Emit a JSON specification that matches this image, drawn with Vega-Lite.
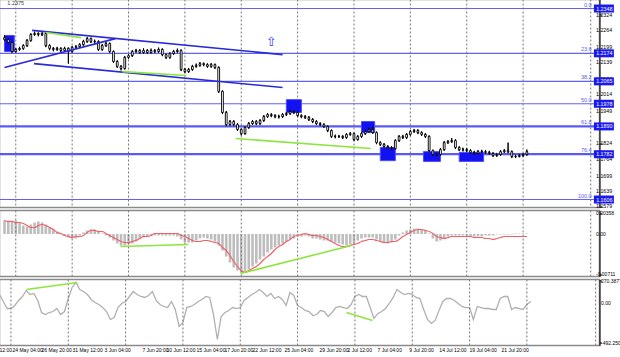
{
"$schema":"https://vega.github.io/schema/vega-lite/v6.json",
"padding":{"left":-1.5,"top":-1.5,"right":0,"bottom":0},
"background":"white",
"spacing":3,
"bounds":"flush",
"config":{"view":{"stroke":"#8a8a8a","strokeWidth":1.5},"font":"Liberation Sans","axis":{"labels":false,"tickColor":"#000","domainColor":"#000","grid":false,"title":null}},
"datasets":{
"bars":[
{"i":0,"o":1.2235,"h":1.2245,"l":1.2222,"c":1.2228,"m":0.00235,"s":0.00235,"k":98},
{"i":2,"o":1.2228,"h":1.2232,"l":1.2210,"c":1.2216,"m":0.00235,"s":0.00217,"k":12},
{"i":4,"o":1.2216,"h":1.2220,"l":1.2175,"c":1.2181,"m":0.00235,"s":0.00217,"k":-74},
{"i":6,"o":1.2181,"h":1.2195,"l":1.2176,"c":1.2189,"m":0.00235,"s":0.00200,"k":-74},
{"i":8,"o":1.2189,"h":1.2199,"l":1.2184,"c":1.2193,"m":0.00200,"s":0.00200,"k":-37},
{"i":10,"o":1.2193,"h":1.2209,"l":1.2188,"c":1.2204,"m":0.00147,"s":0.00182,"k":25},
{"i":12,"o":1.2204,"h":1.2229,"l":1.2199,"c":1.2224,"m":0.00130,"s":0.00147,"k":74},
{"i":14,"o":1.2224,"h":1.2252,"l":1.2219,"c":1.2247,"m":0.00165,"s":0.00112,"k":148},
{"i":16,"o":1.2247,"h":1.2258,"l":1.2242,"c":1.2251,"m":0.00200,"s":0.00112,"k":98},
{"i":18,"o":1.2251,"h":1.2255,"l":1.2240,"c":1.2247,"m":0.00217,"s":0.00147,"k":111},
{"i":20,"o":1.2247,"h":1.2256,"l":1.2241,"c":1.2251,"m":0.00200,"s":0.00165,"k":25},
{"i":22,"o":1.2251,"h":1.2254,"l":1.2198,"c":1.2204,"m":0.00165,"s":0.00147,"k":-123},
{"i":24,"o":1.2204,"h":1.2209,"l":1.2186,"c":1.2193,"m":0.00112,"s":0.00112,"k":-148},
{"i":26,"o":1.2193,"h":1.2198,"l":1.2182,"c":1.2189,"m":0.00077,"s":0.00077,"k":-123},
{"i":28,"o":1.2189,"h":1.2199,"l":1.2184,"c":1.2193,"m":0.00042,"s":0.00025,"k":-111},
{"i":30,"o":1.2193,"h":1.2197,"l":1.2179,"c":1.2185,"m":0.00007,"s":0.00007,"k":-74},
{"i":32,"o":1.2185,"h":1.2199,"l":1.2180,"c":1.2193,"m":-0.00028,"s":-0.00028,"k":-148},
{"i":34,"o":1.2193,"h":1.2197,"l":1.2134,"c":1.2181,"m":-0.00063,"s":-0.00046,"k":-111},
{"i":36,"o":1.2181,"h":1.2202,"l":1.2176,"c":1.2197,"m":-0.00081,"s":-0.00063,"k":49},
{"i":38,"o":1.2197,"h":1.2206,"l":1.2191,"c":1.2200,"m":-0.00081,"s":-0.00046,"k":185},
{"i":40,"o":1.2200,"h":1.2213,"l":1.2195,"c":1.2208,"m":-0.00028,"s":-0.00046,"k":246},
{"i":42,"o":1.2208,"h":1.2226,"l":1.2203,"c":1.2220,"m":0.00025,"s":-0.00028,"k":160},
{"i":44,"o":1.2220,"h":1.2237,"l":1.2215,"c":1.2231,"m":0.00060,"s":0.00025,"k":135},
{"i":46,"o":1.2231,"h":1.2235,"l":1.2214,"c":1.2220,"m":0.00077,"s":0.00060,"k":98},
{"i":48,"o":1.2220,"h":1.2227,"l":1.2212,"c":1.2220,"m":0.00077,"s":0.00060,"k":37},
{"i":50,"o":1.2220,"h":1.2224,"l":1.2183,"c":1.2189,"m":0.00042,"s":0.00042,"k":0},
{"i":52,"o":1.2189,"h":1.2210,"l":1.2184,"c":1.2204,"m":0.00007,"s":0.00042,"k":-25},
{"i":54,"o":1.2204,"h":1.2218,"l":1.2199,"c":1.2212,"m":-0.00028,"s":0.00007,"k":-62},
{"i":56,"o":1.2212,"h":1.2216,"l":1.2176,"c":1.2181,"m":-0.00063,"s":-0.00028,"k":-111},
{"i":58,"o":1.2181,"h":1.2185,"l":1.2137,"c":1.2142,"m":-0.00116,"s":-0.00063,"k":-209},
{"i":60,"o":1.2142,"h":1.2147,"l":1.2117,"c":1.2123,"m":-0.00168,"s":-0.00098,"k":-185},
{"i":62,"o":1.2123,"h":1.2128,"l":1.2108,"c":1.2115,"m":-0.00203,"s":-0.00133,"k":-62},
{"i":64,"o":1.2115,"h":1.2163,"l":1.2111,"c":1.2158,"m":-0.00203,"s":-0.00151,"k":-12},
{"i":66,"o":1.2158,"h":1.2170,"l":1.2152,"c":1.2165,"m":-0.00186,"s":-0.00151,"k":12},
{"i":68,"o":1.2165,"h":1.2186,"l":1.2160,"c":1.2181,"m":-0.00168,"s":-0.00133,"k":74},
{"i":70,"o":1.2181,"h":1.2191,"l":1.2176,"c":1.2185,"m":-0.00133,"s":-0.00116,"k":135},
{"i":72,"o":1.2185,"h":1.2190,"l":1.2172,"c":1.2177,"m":-0.00081,"s":-0.00081,"k":98},
{"i":74,"o":1.2177,"h":1.2193,"l":1.2172,"c":1.2185,"m":-0.00063,"s":-0.00046,"k":74},
{"i":76,"o":1.2185,"h":1.2190,"l":1.2171,"c":1.2177,"m":-0.00046,"s":-0.00046,"k":62},
{"i":78,"o":1.2177,"h":1.2192,"l":1.2172,"c":1.2185,"m":-0.00028,"s":-0.00028,"k":86},
{"i":80,"o":1.2185,"h":1.2190,"l":1.2175,"c":1.2181,"m":-0.00028,"s":0.00007,"k":135},
{"i":82,"o":1.2181,"h":1.2196,"l":1.2176,"c":1.2189,"m":-0.00028,"s":0.00007,"k":25},
{"i":84,"o":1.2189,"h":1.2193,"l":1.2163,"c":1.2169,"m":-0.00028,"s":0.00007,"k":-25},
{"i":86,"o":1.2169,"h":1.2173,"l":1.2152,"c":1.2158,"m":-0.00028,"s":0.00007,"k":-49},
{"i":88,"o":1.2158,"h":1.2178,"l":1.2153,"c":1.2173,"m":-0.00028,"s":0.00007,"k":-62},
{"i":90,"o":1.2173,"h":1.2187,"l":1.2168,"c":1.2181,"m":-0.00028,"s":0.00007,"k":12},
{"i":92,"o":1.2181,"h":1.2192,"l":1.2176,"c":1.2185,"m":-0.00046,"s":0.00007,"k":-86},
{"i":94,"o":1.2185,"h":1.2189,"l":1.2105,"c":1.2111,"m":-0.00098,"s":-0.00028,"k":-295},
{"i":96,"o":1.2111,"h":1.2117,"l":1.2097,"c":1.2103,"m":-0.00151,"s":-0.00046,"k":-246},
{"i":98,"o":1.2103,"h":1.2117,"l":1.2098,"c":1.2111,"m":-0.00151,"s":-0.00081,"k":-62},
{"i":100,"o":1.2111,"h":1.2129,"l":1.2106,"c":1.2123,"m":-0.00151,"s":-0.00116,"k":-49},
{"i":102,"o":1.2123,"h":1.2134,"l":1.2118,"c":1.2127,"m":-0.00116,"s":-0.00133,"k":-25},
{"i":104,"o":1.2127,"h":1.2140,"l":1.2122,"c":1.2134,"m":-0.00081,"s":-0.00133,"k":12},
{"i":106,"o":1.2134,"h":1.2138,"l":1.2124,"c":1.2130,"m":-0.00063,"s":-0.00116,"k":37},
{"i":108,"o":1.2130,"h":1.2135,"l":1.2118,"c":1.2123,"m":-0.00081,"s":-0.00116,"k":74},
{"i":110,"o":1.2123,"h":1.2136,"l":1.2118,"c":1.2130,"m":-0.00098,"s":-0.00133,"k":62},
{"i":112,"o":1.2130,"h":1.2134,"l":1.2113,"c":1.2119,"m":-0.00133,"s":-0.00151,"k":-148},
{"i":114,"o":1.2119,"h":1.2123,"l":1.2020,"c":1.2026,"m":-0.00203,"s":-0.00168,"k":-455},
{"i":116,"o":1.2026,"h":1.2030,"l":1.1938,"c":1.1944,"m":-0.00291,"s":-0.00238,"k":-172},
{"i":118,"o":1.1944,"h":1.1950,"l":1.1890,"c":1.1897,"m":-0.00396,"s":-0.00291,"k":-123},
{"i":120,"o":1.1897,"h":1.1915,"l":1.1892,"c":1.1909,"m":-0.00501,"s":-0.00379,"k":-98},
{"i":122,"o":1.1909,"h":1.1914,"l":1.1891,"c":1.1897,"m":-0.00589,"s":-0.00484,"k":-62},
{"i":124,"o":1.1897,"h":1.1902,"l":1.1872,"c":1.1878,"m":-0.00641,"s":-0.00571,"k":-74},
{"i":126,"o":1.1878,"h":1.1882,"l":1.1855,"c":1.1862,"m":-0.00676,"s":-0.00641,"k":-62},
{"i":128,"o":1.1862,"h":1.1891,"l":1.1858,"c":1.1886,"m":-0.00676,"s":-0.00676,"k":25},
{"i":130,"o":1.1886,"h":1.1907,"l":1.1881,"c":1.1901,"m":-0.00624,"s":-0.00641,"k":62},
{"i":132,"o":1.1901,"h":1.1915,"l":1.1896,"c":1.1909,"m":-0.00571,"s":-0.00606,"k":98},
{"i":134,"o":1.1909,"h":1.1914,"l":1.1895,"c":1.1901,"m":-0.00519,"s":-0.00571,"k":123},
{"i":136,"o":1.1901,"h":1.1918,"l":1.1896,"c":1.1913,"m":-0.00449,"s":-0.00519,"k":160},
{"i":138,"o":1.1913,"h":1.1934,"l":1.1908,"c":1.1928,"m":-0.00396,"s":-0.00449,"k":123},
{"i":140,"o":1.1928,"h":1.1942,"l":1.1923,"c":1.1936,"m":-0.00326,"s":-0.00396,"k":74},
{"i":142,"o":1.1936,"h":1.1941,"l":1.1926,"c":1.1932,"m":-0.00273,"s":-0.00344,"k":111},
{"i":144,"o":1.1932,"h":1.1937,"l":1.1922,"c":1.1928,"m":-0.00238,"s":-0.00273,"k":49},
{"i":146,"o":1.1928,"h":1.1935,"l":1.1921,"c":1.1928,"m":-0.00203,"s":-0.00221,"k":74},
{"i":148,"o":1.1928,"h":1.1942,"l":1.1923,"c":1.1936,"m":-0.00168,"s":-0.00186,"k":37},
{"i":150,"o":1.1936,"h":1.1946,"l":1.1931,"c":1.1940,"m":-0.00133,"s":-0.00133,"k":-37},
{"i":152,"o":1.1940,"h":1.1955,"l":1.1935,"c":1.1948,"m":-0.00098,"s":-0.00098,"k":123},
{"i":154,"o":1.1948,"h":1.1953,"l":1.1938,"c":1.1944,"m":-0.00081,"s":-0.00046,"k":86},
{"i":156,"o":1.1944,"h":1.1948,"l":1.1926,"c":1.1932,"m":-0.00046,"s":-0.00028,"k":-37},
{"i":158,"o":1.1932,"h":1.1937,"l":1.1922,"c":1.1928,"m":-0.00046,"s":-0.00011,"k":-62},
{"i":160,"o":1.1928,"h":1.1934,"l":1.1919,"c":1.1925,"m":-0.00028,"s":0.00007,"k":-98},
{"i":162,"o":1.1925,"h":1.1930,"l":1.1911,"c":1.1917,"m":-0.00046,"s":-0.00011,"k":-111},
{"i":164,"o":1.1917,"h":1.1922,"l":1.1903,"c":1.1909,"m":-0.00081,"s":-0.00028,"k":-160},
{"i":166,"o":1.1909,"h":1.1914,"l":1.1895,"c":1.1901,"m":-0.00081,"s":-0.00028,"k":-148},
{"i":168,"o":1.1901,"h":1.1906,"l":1.1891,"c":1.1897,"m":-0.00098,"s":-0.00046,"k":-98},
{"i":170,"o":1.1897,"h":1.1902,"l":1.1884,"c":1.1890,"m":-0.00116,"s":-0.00063,"k":-111},
{"i":172,"o":1.1890,"h":1.1894,"l":1.1868,"c":1.1874,"m":-0.00116,"s":-0.00098,"k":-172},
{"i":174,"o":1.1874,"h":1.1878,"l":1.1845,"c":1.1851,"m":-0.00133,"s":-0.00133,"k":-123},
{"i":176,"o":1.1851,"h":1.1858,"l":1.1844,"c":1.1851,"m":-0.00151,"s":-0.00168,"k":-62},
{"i":178,"o":1.1851,"h":1.1857,"l":1.1845,"c":1.1851,"m":-0.00168,"s":-0.00203,"k":-49},
{"i":180,"o":1.1851,"h":1.1856,"l":1.1841,"c":1.1847,"m":-0.00186,"s":-0.00221,"k":-62},
{"i":182,"o":1.1847,"h":1.1864,"l":1.1842,"c":1.1859,"m":-0.00203,"s":-0.00221,"k":-74},
{"i":184,"o":1.1859,"h":1.1868,"l":1.1854,"c":1.1862,"m":-0.00186,"s":-0.00203,"k":-25},
{"i":186,"o":1.1862,"h":1.1866,"l":1.1833,"c":1.1839,"m":-0.00168,"s":-0.00186,"k":74},
{"i":188,"o":1.1839,"h":1.1856,"l":1.1835,"c":1.1851,"m":-0.00116,"s":-0.00168,"k":98},
{"i":190,"o":1.1851,"h":1.1868,"l":1.1846,"c":1.1862,"m":-0.00081,"s":-0.00133,"k":74},
{"i":192,"o":1.1862,"h":1.1876,"l":1.1857,"c":1.1870,"m":-0.00063,"s":-0.00116,"k":74},
{"i":194,"o":1.1870,"h":1.1885,"l":1.1865,"c":1.1878,"m":-0.00063,"s":-0.00098,"k":-62},
{"i":196,"o":1.1878,"h":1.1890,"l":1.1861,"c":1.1866,"m":-0.00063,"s":-0.00098,"k":-197},
{"i":198,"o":1.1866,"h":1.1870,"l":1.1821,"c":1.1827,"m":-0.00098,"s":-0.00116,"k":-135},
{"i":200,"o":1.1827,"h":1.1832,"l":1.1814,"c":1.1820,"m":-0.00133,"s":-0.00133,"k":-111},
{"i":202,"o":1.1820,"h":1.1825,"l":1.1806,"c":1.1812,"m":-0.00151,"s":-0.00151,"k":-74},
{"i":204,"o":1.1812,"h":1.1817,"l":1.1802,"c":1.1808,"m":-0.00168,"s":-0.00151,"k":-12},
{"i":206,"o":1.1808,"h":1.1813,"l":1.1798,"c":1.1804,"m":-0.00151,"s":-0.00133,"k":62},
{"i":208,"o":1.1804,"h":1.1840,"l":1.1800,"c":1.1835,"m":-0.00098,"s":-0.00133,"k":160},
{"i":210,"o":1.1835,"h":1.1856,"l":1.1830,"c":1.1851,"m":-0.00028,"s":-0.00098,"k":123},
{"i":212,"o":1.1851,"h":1.1857,"l":1.1841,"c":1.1847,"m":0.00025,"s":-0.00046,"k":98},
{"i":214,"o":1.1847,"h":1.1864,"l":1.1842,"c":1.1859,"m":0.00060,"s":-0.00011,"k":111},
{"i":216,"o":1.1859,"h":1.1876,"l":1.1854,"c":1.1870,"m":0.00077,"s":0.00025,"k":98},
{"i":218,"o":1.1870,"h":1.1880,"l":1.1865,"c":1.1874,"m":0.00095,"s":0.00060,"k":62},
{"i":220,"o":1.1874,"h":1.1879,"l":1.1860,"c":1.1866,"m":0.00095,"s":0.00077,"k":49},
{"i":222,"o":1.1866,"h":1.1871,"l":1.1853,"c":1.1859,"m":0.00077,"s":0.00077,"k":-86},
{"i":224,"o":1.1859,"h":1.1864,"l":1.1845,"c":1.1851,"m":0.00060,"s":0.00060,"k":-209},
{"i":226,"o":1.1851,"h":1.1855,"l":1.1790,"c":1.1796,"m":0.00007,"s":0.00042,"k":-258},
{"i":228,"o":1.1796,"h":1.1800,"l":1.1775,"c":1.1781,"m":-0.00081,"s":0.00007,"k":-221},
{"i":230,"o":1.1781,"h":1.1788,"l":1.1774,"c":1.1781,"m":-0.00133,"s":-0.00046,"k":-98},
{"i":232,"o":1.1781,"h":1.1806,"l":1.1776,"c":1.1800,"m":-0.00116,"s":-0.00063,"k":12},
{"i":234,"o":1.1800,"h":1.1833,"l":1.1795,"c":1.1827,"m":-0.00081,"s":-0.00081,"k":49},
{"i":236,"o":1.1827,"h":1.1837,"l":1.1822,"c":1.1831,"m":-0.00046,"s":-0.00063,"k":49},
{"i":238,"o":1.1831,"h":1.1845,"l":1.1826,"c":1.1835,"m":-0.00028,"s":-0.00046,"k":25},
{"i":240,"o":1.1835,"h":1.1840,"l":1.1802,"c":1.1808,"m":-0.00028,"s":-0.00046,"k":-12},
{"i":242,"o":1.1808,"h":1.1813,"l":1.1794,"c":1.1800,"m":-0.00028,"s":-0.00046,"k":-49},
{"i":244,"o":1.1800,"h":1.1807,"l":1.1793,"c":1.1800,"m":-0.00028,"s":-0.00046,"k":-62},
{"i":246,"o":1.1800,"h":1.1806,"l":1.1790,"c":1.1796,"m":-0.00028,"s":-0.00046,"k":-62},
{"i":248,"o":1.1796,"h":1.1801,"l":1.1783,"c":1.1789,"m":-0.00046,"s":-0.00046,"k":-209},
{"i":250,"o":1.1789,"h":1.1795,"l":1.1779,"c":1.1785,"m":-0.00046,"s":-0.00063,"k":-49},
{"i":252,"o":1.1785,"h":1.1798,"l":1.1780,"c":1.1792,"m":-0.00046,"s":-0.00063,"k":-62},
{"i":254,"o":1.1792,"h":1.1799,"l":1.1786,"c":1.1792,"m":-0.00046,"s":-0.00063,"k":-74},
{"i":256,"o":1.1792,"h":1.1798,"l":1.1783,"c":1.1789,"m":-0.00028,"s":-0.00081,"k":-74},
{"i":258,"o":1.1789,"h":1.1795,"l":1.1779,"c":1.1785,"m":-0.00028,"s":-0.00081,"k":-86},
{"i":260,"o":1.1785,"h":1.1790,"l":1.1771,"c":1.1777,"m":-0.00028,"s":-0.00098,"k":-86},
{"i":262,"o":1.1777,"h":1.1787,"l":1.1772,"c":1.1781,"m":-0.00011,"s":-0.00081,"k":49},
{"i":264,"o":1.1781,"h":1.1798,"l":1.1776,"c":1.1792,"m":-0.00011,"s":-0.00063,"k":74},
{"i":266,"o":1.1792,"h":1.1802,"l":1.1787,"c":1.1796,"m":-0.00011,"s":-0.00046,"k":74},
{"i":268,"o":1.1796,"h":1.1827,"l":1.1786,"c":1.1792,"m":-0.00011,"s":-0.00046,"k":-86},
{"i":270,"o":1.1792,"h":1.1796,"l":1.1767,"c":1.1773,"m":-0.00011,"s":-0.00046,"k":-62},
{"i":272,"o":1.1773,"h":1.1780,"l":1.1767,"c":1.1773,"m":0.00007,"s":-0.00046,"k":-74},
{"i":274,"o":1.1773,"h":1.1783,"l":1.1770,"c":1.1777,"m":0.00007,"s":-0.00046,"k":-86},
{"i":276,"o":1.1777,"h":1.1787,"l":1.1771,"c":1.1781,"m":0.00007,"s":-0.00046,"k":-25},
{"i":278,"o":1.1781,"h":1.1800,"l":1.1776,"c":1.1792,"m":0.00007,"s":-0.00046,"k":12}
],
"fib":[
{"p":1.2348,"lab":"0.0","t":"1.2348"},
{"p":1.2174,"lab":"23.6","t":"1.2174"},
{"p":1.2065,"lab":"38.2","t":"1.2065"},
{"p":1.1978,"lab":"50.0","t":"1.1978"},
{"p":1.1890,"lab":"61.8","t":"1.1890"},
{"p":1.1782,"lab":"76.4","t":"1.1782"},
{"p":1.1606,"lab":"100.0","t":"1.1606"}
],
"ptick":[{"v":1.2324},{"v":1.2264},{"v":1.2199},{"v":1.2139},{"v":1.2074},{"v":1.2014},{"v":1.1949},{"v":1.1889},{"v":1.1824},{"v":1.1764},{"v":1.1699},{"v":1.1639},{"v":1.1579}],
"mtick":[{"v":0.00358,"t":"0.00358"},{"v":0,"t":"0.00"},{"v":-0.00711,"t":"-0.00711"}],
"ctick":[{"v":270.3877,"t":"270.3877"},{"v":0,"t":"0.00"},{"v":-492.2503,"t":"-492.2503"}],
"xlab":[{"x":0,"t":"12:00"},{"x":6.8,"t":"24 May 04:00"},{"x":22,"t":"26 May 20:00"},{"x":38.2,"t":"31 May 12:00"},{"x":55,"t":"3 Jun 04:00"},{"x":74.8,"t":"7 Jun 20:00"},{"x":87.4,"t":"10 Jun 12:00"},{"x":103.1,"t":"15 Jun 04:00"},{"x":117.7,"t":"17 Jun 20:00"},{"x":132.4,"t":"22 Jun 12:00"},{"x":149.1,"t":"25 Jun 04:00"},{"x":167.5,"t":"29 Jun 20:00"},{"x":182.1,"t":"2 Jul 12:00"},{"x":197.8,"t":"7 Jul 04:00"},{"x":214.5,"t":"9 Jul 20:00"},{"x":230.2,"t":"14 Jul 12:00"},{"x":246,"t":"19 Jul 04:00"},{"x":262.7,"t":"21 Jul 20:00"}],
"tl":[
{"a":14.7,"pa":1.2263,"b":148,"pb":1.2169,"kind":"channel"},
{"a":15.7,"pa":1.2134,"b":148,"pb":1.2041,"kind":"channel"},
{"a":0,"pa":1.2119,"b":59,"pb":1.2231,"kind":"channel"},
{"a":22,"pa":1.2255,"b":40.8,"pb":1.2235,"kind":"divergence"},
{"a":62.8,"pa":1.2103,"b":96.8,"pb":1.2088,"kind":"divergence"},
{"a":123,"pa":1.1843,"b":195,"pb":1.1804,"kind":"divergence"}
],
"sq":[
{"a":0,"b":5.2,"pa":1.2243,"pb":1.2181},
{"a":150,"b":158,"pa":1.1994,"pb":1.1944},
{"a":190,"b":197,"pa":1.1909,"pb":1.1866},
{"a":200,"b":208,"pa":1.1808,"pb":1.1757},
{"a":223,"b":232,"pa":1.1792,"pb":1.1754},
{"a":242,"b":255,"pa":1.1789,"pb":1.1754}
],
"mg":[
{"a":61.7,"pa":-0.00221,"b":97.9,"pb":-0.00186},
{"a":125.6,"pa":-0.00694,"b":184.7,"pb":-0.00203}
],
"cg":[
{"a":14.1,"pa":160,"b":40.8,"pb":246},
{"a":181.6,"pa":-123,"b":195.2,"pb":-221}
],
"grid":[{"g":6},{"g":36},{"g":66},{"g":96},{"g":126},{"g":156},{"g":186},{"g":216},{"g":246},{"g":276},{"g":312}]
},
"vconcat":[
{
"width":600,"height":208,
"layer":[
{"data":{"name":"bars"},"mark":{"type":"rule","color":"#000","strokeWidth":1,"clip":true},
 "encoding":{"x":{"field":"i","type":"quantitative","scale":{"domain":[0,314],"nice":false,"zero":false},"axis":null},
 "y":{"field":"l","type":"quantitative","scale":{"domain":[1.1575,1.2383],"nice":false,"zero":false},
  "axis":{"orient":"right","values":[1.2324,1.2264,1.2199,1.2139,1.2074,1.2014,1.1949,1.1889,1.1824,1.1764,1.1699,1.1639,1.1579],"tickSize":2}},
 "y2":{"field":"h"}}},
{"data":{"name":"grid"},"mark":{"type":"rule","color":"#777","strokeDash":[2,2],"strokeWidth":1,"clip":true},
 "encoding":{"x":{"field":"g","type":"quantitative","scale":{"domain":[0,314],"nice":false,"zero":false},"axis":null}}},
{"data":{"name":"fib"},"transform":[{"filter":"datum.lab != '61.8' && datum.lab != '76.4'"}],"mark":{"type":"rule","color":"#6262f5","strokeWidth":1.2,"clip":true},
 "encoding":{"y":{"field":"p","type":"quantitative","scale":{"domain":[1.1575,1.2383],"nice":false,"zero":false},"axis":{"orient":"right"}}}},
{"data":{"name":"fib"},"transform":[{"filter":"datum.lab == '61.8' || datum.lab == '76.4'"}],"mark":{"type":"rule","color":"#5a5af2","strokeWidth":2.2,"clip":true},
 "encoding":{"y":{"field":"p","type":"quantitative","scale":{"domain":[1.1575,1.2383],"nice":false,"zero":false},"axis":{"orient":"right"}}}},
{"data":{"name":"sq"},"mark":{"type":"rect","fill":"#1212f0","stroke":"#4a4aff","strokeWidth":1,"clip":true},
 "encoding":{"x":{"field":"a","type":"quantitative","scale":{"domain":[0,314],"nice":false,"zero":false},"axis":null},"x2":{"field":"b"},
 "y":{"field":"pa","type":"quantitative","scale":{"domain":[1.1575,1.2383],"nice":false,"zero":false},"axis":{"orient":"right"}},"y2":{"field":"pb"}}},
{"data":{"name":"bars"},"mark":{"type":"rule","color":"#000","strokeWidth":1,"clip":true},
 "encoding":{"x":{"field":"i","type":"quantitative","scale":{"domain":[0,314],"nice":false,"zero":false},"axis":null},
 "y":{"field":"l","type":"quantitative","scale":{"domain":[1.1575,1.2383],"nice":false,"zero":false},"axis":{"orient":"right"}},
 "y2":{"field":"h"}}},
{"data":{"name":"bars"},"mark":{"type":"bar","width":1.8,"fill":"#fff","stroke":"#000","strokeWidth":0.9,"clip":true},
 "encoding":{"x":{"field":"i","type":"quantitative","scale":{"domain":[0,314],"nice":false,"zero":false},"axis":null},
 "y":{"field":"o","type":"quantitative","scale":{"domain":[1.1575,1.2383],"nice":false,"zero":false},"axis":{"orient":"right"}},"y2":{"field":"c"}}},
{"data":{"name":"tl"},"mark":{"type":"rule","strokeWidth":1.6,"clip":true},
 "encoding":{"x":{"field":"a","type":"quantitative","scale":{"domain":[0,314],"nice":false,"zero":false},"axis":null},"x2":{"field":"b"},
 "y":{"field":"pa","type":"quantitative","scale":{"domain":[1.1575,1.2383],"nice":false,"zero":false},"axis":{"orient":"right"}},"y2":{"field":"pb"},
 "color":{"field":"kind","type":"nominal","scale":{"domain":["channel","divergence"],"range":["#2a2ad8","#8ee53f"]},"legend":null}}},
{"data":{"name":"ptick"},"mark":{"type":"text","align":"left","baseline":"middle","fontSize":5.3,"color":"#000"},
 "encoding":{"x":{"datum":314.8,"axis":null},"y":{"field":"v","type":"quantitative","scale":{"domain":[1.1575,1.2383],"nice":false,"zero":false},"axis":{"orient":"right"}},"text":{"field":"v","type":"quantitative","format":".4f"}}},
{"data":{"name":"fib"},"mark":{"type":"text","align":"right","baseline":"bottom","dy":-1,"fontSize":5.5,"color":"#5a5af2"},
 "encoding":{"x":{"datum":312.5,"axis":null},"y":{"field":"p","type":"quantitative","scale":{"domain":[1.1575,1.2383],"nice":false,"zero":false},"axis":{"orient":"right"}},"text":{"field":"lab"}}},
{"data":{"name":"fib"},"mark":{"type":"point","shape":"M-1,-0.4H1V0.4H-1Z","size":400,"filled":true,"color":"#1a1aee","opacity":1},
 "encoding":{"x":{"datum":319.0,"axis":null},"y":{"field":"p","type":"quantitative","scale":{"domain":[1.1575,1.2383],"nice":false,"zero":false},"axis":{"orient":"right"}}}},
{"data":{"name":"fib"},"mark":{"type":"text","align":"left","baseline":"middle","fontSize":5.3,"color":"#fff"},
 "encoding":{"x":{"datum":314.9,"axis":null},"y":{"field":"p","type":"quantitative","scale":{"domain":[1.1575,1.2383],"nice":false,"zero":false},"axis":{"orient":"right"}},"text":{"field":"t"}}},
{"data":{"values":[{"i":142,"p":1.2216,"t":"⇧"}]},"mark":{"type":"text","fontSize":13,"color":"#3a3aff","font":"DejaVu Sans"},
 "encoding":{"x":{"field":"i","type":"quantitative","axis":null},"y":{"field":"p","type":"quantitative","axis":{"orient":"right"}},"text":{"field":"t"}}},
{"data":{"values":[{"i":1.5,"p":1.2371,"t":"1.2375"}]},"mark":{"type":"text","align":"left","baseline":"middle","fontSize":5.5,"color":"#444"},
 "encoding":{"x":{"field":"i","type":"quantitative","axis":null},"y":{"field":"p","type":"quantitative","axis":{"orient":"right"}},"text":{"field":"t"}}}
]
},
{
"width":600,"height":66,
"layer":[
{"data":{"name":"bars"},"mark":{"type":"bar","width":2.6,"color":"#bdbdbd","clip":true},
 "encoding":{"x":{"field":"i","type":"quantitative","scale":{"domain":[0,314],"nice":false,"zero":false},"axis":null},
 "y":{"field":"m","type":"quantitative","scale":{"domain":[-0.00747,0.0041],"nice":false,"zero":false},
  "axis":{"orient":"right","values":[0.00358,0,-0.00711],"tickSize":2}},
 "y2":{"datum":0}}},
{"data":{"name":"grid"},"mark":{"type":"rule","color":"#777","strokeDash":[2,2],"strokeWidth":1,"clip":true},
 "encoding":{"x":{"field":"g","type":"quantitative","scale":{"domain":[0,314],"nice":false,"zero":false},"axis":null}}},
{"data":{"name":"bars"},"mark":{"type":"line","color":"#f0606a","strokeWidth":1.2,"interpolate":"monotone","clip":true},
 "encoding":{"x":{"field":"i","type":"quantitative","scale":{"domain":[0,314],"nice":false,"zero":false},"axis":null},
 "y":{"field":"s","type":"quantitative","scale":{"domain":[-0.00747,0.0041],"nice":false,"zero":false},"axis":{"orient":"right"}}}},
{"data":{"name":"mg"},"mark":{"type":"rule","color":"#8ee53f","strokeWidth":1.6,"clip":true},
 "encoding":{"x":{"field":"a","type":"quantitative","scale":{"domain":[0,314],"nice":false,"zero":false},"axis":null},"x2":{"field":"b"},
 "y":{"field":"pa","type":"quantitative","scale":{"domain":[-0.00747,0.0041],"nice":false,"zero":false},"axis":{"orient":"right"}},"y2":{"field":"pb"}}},
{"data":{"name":"mtick"},"mark":{"type":"text","align":"left","baseline":"middle","fontSize":5,"color":"#000"},
 "encoding":{"x":{"datum":314.8,"axis":null},"y":{"field":"v","type":"quantitative","scale":{"domain":[-0.00747,0.0041],"nice":false,"zero":false},"axis":{"orient":"right"}},"text":{"field":"t"}}}
]
},
{
"width":600,"height":66,
"layer":[
{"data":{"name":"bars"},"mark":{"type":"line","color":"#b0b0b0","strokeWidth":1.3,"clip":true},
 "encoding":{"x":{"field":"i","type":"quantitative","scale":{"domain":[0,314],"nice":false,"zero":false},"axis":null},
 "y":{"field":"k","type":"quantitative","scale":{"domain":[-529,283],"nice":false,"zero":false},
  "axis":{"orient":"right","values":[270.3877,0,-492.2503],"tickSize":2}}}},
{"data":{"name":"grid"},"mark":{"type":"rule","color":"#777","strokeDash":[2,2],"strokeWidth":1,"clip":true},
 "encoding":{"x":{"field":"g","type":"quantitative","scale":{"domain":[0,314],"nice":false,"zero":false},"axis":null}}},
{"data":{"name":"cg"},"mark":{"type":"rule","color":"#8ee53f","strokeWidth":1.6,"clip":true},
 "encoding":{"x":{"field":"a","type":"quantitative","scale":{"domain":[0,314],"nice":false,"zero":false},"axis":null},"x2":{"field":"b"},
 "y":{"field":"pa","type":"quantitative","scale":{"domain":[-529,283],"nice":false,"zero":false},"axis":{"orient":"right"}},"y2":{"field":"pb"}}},
{"data":{"name":"ctick"},"mark":{"type":"text","align":"left","baseline":"middle","fontSize":5,"color":"#000"},
 "encoding":{"x":{"datum":314.8,"axis":null},"y":{"field":"v","type":"quantitative","scale":{"domain":[-529,283],"nice":false,"zero":false},"axis":{"orient":"right"}},"text":{"field":"t"}}},
{"data":{"name":"xlab"},"mark":{"type":"text","align":"left","baseline":"top","fontSize":5,"color":"#000"},
 "encoding":{"x":{"field":"x","type":"quantitative","scale":{"domain":[0,314],"nice":false,"zero":false},"axis":null},"y":{"datum":-555,"axis":{"orient":"right"}},"text":{"field":"t"}}}
]
}
]
}
